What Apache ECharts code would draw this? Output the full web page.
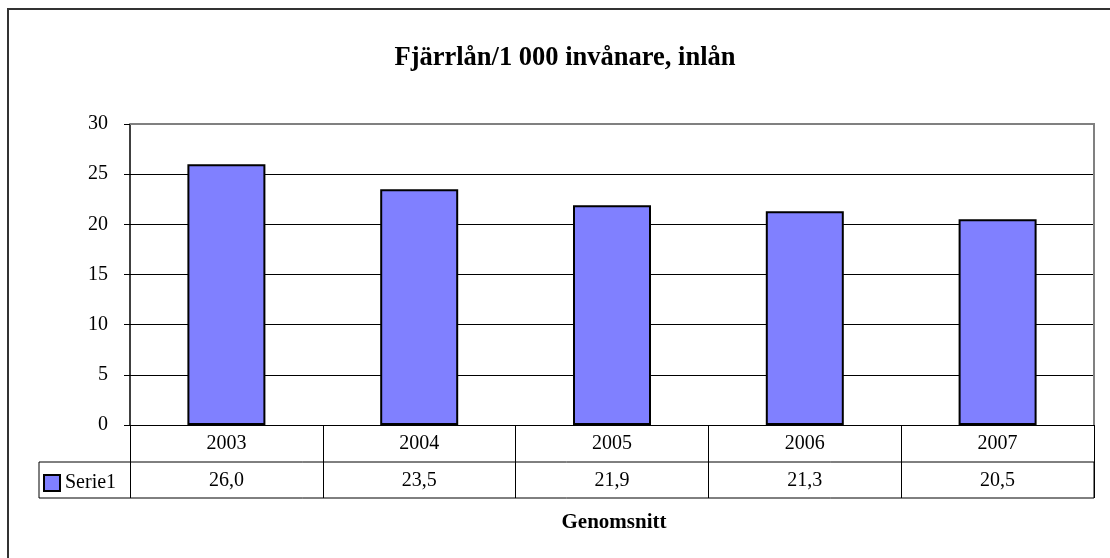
<!DOCTYPE html>
<html>
<head>
<meta charset="utf-8">
<script src="https://cdn.jsdelivr.net/npm/echarts@6/dist/echarts.min.js"></script>
<style>
    html, body { margin: 0; padding: 0; background: #fff; }
    #chart { width: 1110px; height: 558px; }
</style>
</head>
<body>
<div id="chart"></div>
<script>
// data
const years = ['2003', '2004', '2005', '2006', '2007']
const serie1 = [26.0, 23.5, 21.9, 21.3, 20.5]
const yTicks = [0, 5, 10, 15, 20, 25, 30]

const font = '"Liberation Serif", "Times New Roman", serif'
const chart = echarts.init(document.getElementById('chart'))

// swedish decimal comma
const fmt = v => v.toFixed(1).replace('.', ',')

const option = {
    animation: false,
    backgroundColor: '#fff',
    textStyle: { fontFamily: font },
    title: [
        {
            text: 'Fjärrlån/1 000 invånare, inlån',
            left: 560,
            top: 40,
            textAlign: 'center',
            textStyle: { fontFamily: font, fontSize: 26.5, fontWeight: 'bold', color: '#000' }
        },
        {
            text: 'Genomsnitt',
            left: 609,
            top: 507,
            textAlign: 'center',
            textStyle: { fontFamily: font, fontSize: 21, fontWeight: 'bold', color: '#000' }
        }
    ],
    legend: {
        left: 38,
        top: 468,
        icon: 'rect',
        itemWidth: 16,
        itemHeight: 16,
        textStyle: { fontFamily: font, fontSize: 20, color: '#000' },
        data: ['Serie1']
    },
    grid: {
        left: 130,
        right: 16,
        top: 124,
        bottom: 133
    },
    xAxis: {
        type: 'category',
        data: years,
        axisLine: { lineStyle: { color: '#000', width: 1 } },
        axisTick: { show: true, length: 73, lineStyle: { color: '#000' } },
        axisLabel: {
            margin: 0,
            formatter: (val, i) => '{a|' + val + '}\n{b|' + fmt(serie1[i]) + '}',
            rich: {
                a: { fontFamily: font, fontSize: 20, color: '#000', lineHeight: 37 },
                b: { fontFamily: font, fontSize: 20, color: '#000', lineHeight: 37 }
            }
        }
    },
    yAxis: {
        type: 'value',
        min: yTicks[0],
        max: yTicks[yTicks.length - 1],
        interval: yTicks[1] - yTicks[0],
        axisLine: { show: true, lineStyle: { color: '#000', width: 1.5 } },
        axisTick: { show: true, length: 6, lineStyle: { color: '#000' } },
        axisLabel: { margin: 22, fontFamily: font, fontSize: 20, color: '#000' },
        splitLine: { lineStyle: { color: '#000', width: 1 } }
    },
    series: [
        {
            name: 'Serie1',
            type: 'bar',
            data: serie1,
            barWidth: 78,
            itemStyle: { color: '#8080ff', borderColor: '#000', borderWidth: 2 }
        }
    ],
    graphic: [
        // outer chart border
        {
            type: 'rect',
            shape: { x: 8, y: 9, width: 1200, height: 700 },
            style: { fill: null, stroke: '#333', lineWidth: 2 },
            z: 100
        },
        // gray plot area frame, top and right
        {
            type: 'polyline',
            shape: { points: [[130, 124], [1094, 124], [1094, 425]] },
            style: { fill: null, stroke: '#808080', lineWidth: 2 },
            z: 100
        },
        // data table rows below the axis
        {
            type: 'rect',
            shape: { x: 39, y: 462, width: 1055, height: 36 },
            style: { fill: null, stroke: '#000', lineWidth: 1 },
            z: 100
        }
    ]
}

chart.setOption(option)
window.addEventListener('resize', function () {
    chart.resize()
})
</script>
</body>
</html>
